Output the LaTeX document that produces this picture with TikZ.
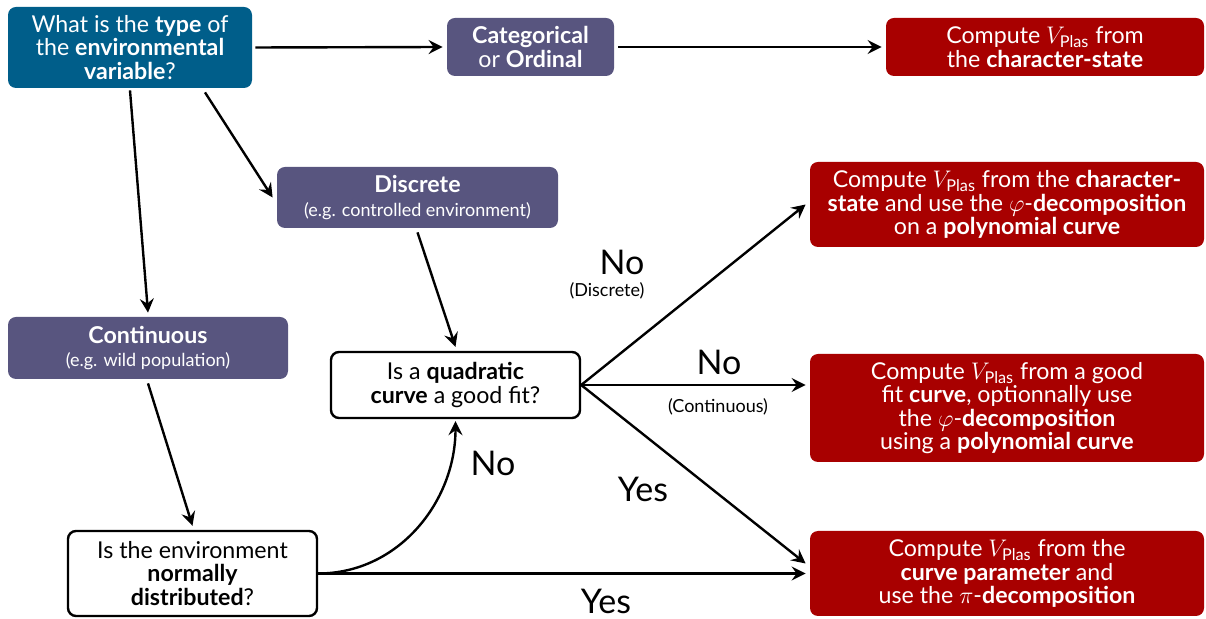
\documentclass[tikz,border=0pt]{standalone}
\usepackage{amsmath}
\usepackage{fontspec}
\setmainfont{Lato}
\usetikzlibrary{arrows.meta}
\definecolor{qblue}{RGB}{0,94,138}
\definecolor{cpurple}{RGB}{88,85,127}
\definecolor{rred}{RGB}{168,0,0}
\tikzset{
  base/.style={rounded corners=4pt, align=center, inner sep=2pt,
    font=\fontsize{11.6}{11.7}\selectfont},
  bluebox/.style={base, fill=qblue, text=white},
  catbox/.style={base, fill=cpurple, text=white},
  redbox/.style={base, fill=rred, text=white},
  qbox/.style={base, draw=black, line width=1.2pt, fill=white},
  conn/.style={line width=1.2pt, -{Stealth[length=7pt,width=7pt,inset=2.5pt]}},
  biglab/.style={font=\fontsize{17}{20}\selectfont, inner sep=0pt},
  smalllab/.style={font=\fontsize{9}{10}\selectfont, inner sep=0pt},
}
\newcommand{\Vp}{$V_{\text{Plas}}$}
\begin{document}
\begin{tikzpicture}[x=0.5pt,y=-0.5pt]
\useasboundingbox (0,0) rectangle (1206,619);
\node[bluebox, minimum width=122pt, minimum height=40.5pt] (q1) at (130,47.5)
  {What is the \textbf{type} of\\the \textbf{environmental}\\\textbf{variable}?};
\node[catbox, minimum width=83.5pt, minimum height=29pt] (cat) at (530.5,47)
  {\textbf{Categorical}\\or \textbf{Ordinal}};
\node[redbox, minimum width=159pt, minimum height=29pt] (r1) at (1045,47)
  {Compute \Vp{} from\\the \textbf{character-state}};
\node[catbox, minimum width=140.5pt, minimum height=30.5pt] (disc) at (417.5,197.5)
  {\textbf{Discrete}\\{\fontsize{9}{12}\selectfont(e.g. controlled environment)}};
\node[catbox, minimum width=140pt, minimum height=31pt] (cont) at (148,348)
  {\textbf{Continuous}\\{\fontsize{9}{12}\selectfont(e.g. wild population)}};
\node[qbox, minimum width=124.5pt, minimum height=33pt] (quad) at (455.5,385)
  {Is a \textbf{quadratic}\\\textbf{curve} a good fit?};
\node[qbox, minimum width=124.5pt, minimum height=42.5pt] (norm) at (192.5,573.5)
  {Is the environment\\\textbf{normally}\\\textbf{distributed}?};
\node[redbox, minimum width=197pt, minimum height=42.5pt] (r2) at (1007,204.5)
  {Compute \Vp{} from the \textbf{character-}\\\textbf{state} and use the $\varphi$-\textbf{decomposition}\\on a \textbf{polynomial curve}};
\node[redbox, minimum width=197pt, minimum height=54pt] (r3) at (1007,408)
  {Compute \Vp{} from a good\\fit \textbf{curve}, optionnally use\\the $\varphi$-\textbf{decomposition}\\using a \textbf{polynomial curve}};
\node[redbox, minimum width=197pt, minimum height=42.5pt] (r4) at (1007,573.5)
  {Compute \Vp{} from the\\\textbf{curve parameter} and\\use the $\pi$-\textbf{decomposition}};

\coordinate (q1b) at ([xshift=37.5pt,yshift=-2pt]q1.south);
\coordinate (r4in) at ([yshift=5pt]r4.west);

\draw[conn] (q1.east) ++(1.5pt,0) -- ([xshift=-2pt]cat.west);
\draw[conn] (cat.east) ++(2pt,0) -- ([xshift=-2pt]r1.west);
\draw[conn] ([yshift=-1pt]q1.south) -- ([yshift=2pt]cont.north);
\draw[conn] (q1b) -- ([xshift=-2pt]disc.west);
\draw[conn] ([yshift=-2pt]disc.south) -- ([yshift=2pt]quad.north);
\draw[conn] ([yshift=-2pt]cont.south) -- ([yshift=2pt]norm.north);
\draw[conn] (norm.east) to[out=0,in=-90] ([yshift=-1pt]quad.south);
\draw[conn] (norm.east) -- ([xshift=-2pt]r4.west |- norm.east);
\draw[conn] (quad.east) -- ([xshift=-2pt]r2.west);
\draw[conn] (quad.east) -- ([xshift=-2pt]quad.east -| r3.west);
\draw[conn] (quad.east) -- ([xshift=-2pt]r4in);

\node[biglab] (no1) at (622,262) {No};
\node[smalllab] (disclab) at (607,291) {(Discrete)};
\node[biglab] (no2) at (719,362) {No};
\node[smalllab] (contlab) at (718,407) {(Continuous)};
\node[biglab] (yes1) at (643,489) {Yes};
\node[biglab] (no3) at (493,463) {No};
\node[biglab] (yes2) at (606,601) {Yes};
\end{tikzpicture}
\end{document}
